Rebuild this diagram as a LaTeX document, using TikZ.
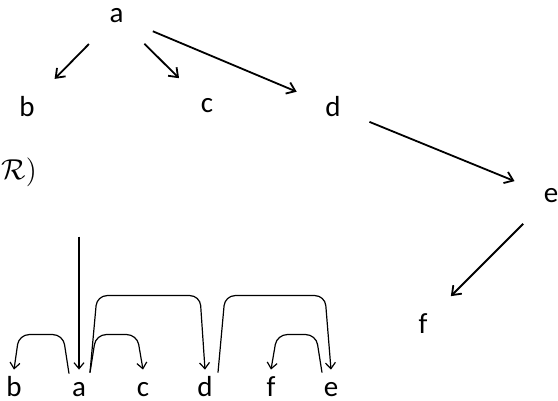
\documentclass[tikz,border=0pt]{standalone}
\usepackage{fontspec}
\setmainfont{Carlito}
\usetikzlibrary{arrows.meta,calc}

\begin{document}
\begin{tikzpicture}[x=0.5pt, y=-0.5pt,
  every node/.style={font=\fontsize{14.5pt}{17pt}\selectfont},
  tree/.style={circle, minimum size=39pt, inner sep=0pt},
  word/.style={anchor=base, inner sep=0pt, text height=13pt},
  edge/.style={line width=0.9pt, -{Straight Barb[length=4pt,width=6pt]}},
  dep/.style={line width=0.6pt, rounded corners=5pt, -{Straight Barb[length=3pt,width=5pt]}}]
  \useasboundingbox (0,0) rectangle (558,401);

  % Tree
  \node[tree] (a) at (116.5,16) {a};
  \node[tree] (b) at (27,107) {b};
  \node[tree] (c) at (207,106) {c};
  \node[tree] (d) at (333,107) {d};
  \node[tree] (e) at (551,196) {e};
  \node[tree] (f) at (423,324) {f};
  \draw[edge] (a) -- (b);
  \draw[edge] (a) -- (c);
  \draw[edge] (a) -- (d);
  \draw[edge] (d) -- (e);
  \draw[edge] (e) -- (f);

  % Cut-off label
  \node[anchor=west, inner sep=0pt] (rel) at (1,172) {$\mathcal{R})$};

  % Words
  \node[word] (b2) at (14,396) {b};
  \node[word] (a2) at (79,396) {a};
  \node[word] (c2) at (143,396) {c};
  \node[word] (d2) at (205,396) {d};
  \node[word] (f2) at (271,396) {f};
  \node[word] (e2) at (331,396) {e};

  % Dependency arcs
  \coordinate (root) at ($(a2.north)+(0,-133)$);
  \draw[dep] (root) -- (a2.north);
  \draw[dep] ($(a2.north)+(-10,4)$) -- ++(-6,-39) -- ($(b2.north)+(5,-35)$) -- (b2.north);
  \draw[dep] ($(a2.north)+(11,3)$) -- ++(6,-38) -- ($(c2.north)+(-6,-35)$) -- (c2.north);
  \draw[dep] ($(a2.north)+(11,3)$) -- ++(7,-77) -- ($(d2.north)+(-5,-74)$) -- (d2.north);
  \draw[dep] ($(d2.north)+(13,3)$) -- ++(7,-77) -- ($(e2.north)+(-6,-74)$) -- (e2.north);
  \draw[dep] ($(e2.north)+(-9,3)$) -- ++(-6,-38) -- ($(f2.north)+(6,-35)$) -- (f2.north);
\end{tikzpicture}
\end{document}
